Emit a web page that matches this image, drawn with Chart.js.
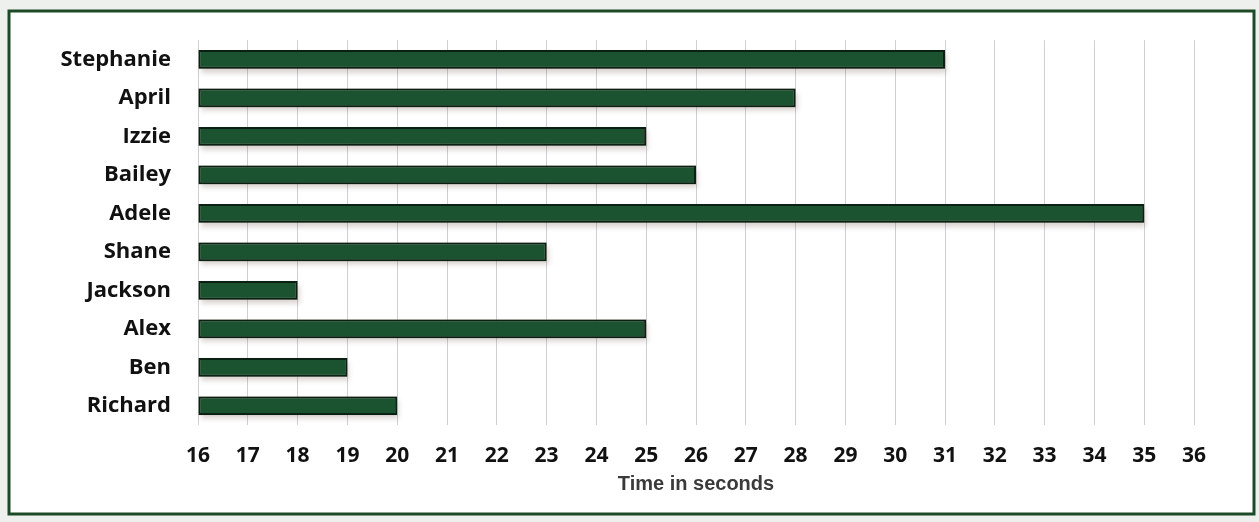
<!DOCTYPE html>
<html>
<head>
<meta charset="utf-8">
<script src="https://cdn.jsdelivr.net/npm/chart.js@4.4.1/dist/chart.umd.min.js"></script>
<style>
  html, body { margin: 0; padding: 0; background: #eef0ee; }
  #wrap { position: absolute; left: 0; top: 0; width: 1259px; height: 522px; }
</style>
</head>
<body>
<div id="wrap"><canvas id="c" width="1259" height="522"></canvas></div>
<script>
const names = ["Stephanie", "April", "Izzie", "Bailey", "Adele", "Shane", "Jackson", "Alex", "Ben", "Richard"];
const times = [31, 28, 25, 26, 35, 23, 18, 25, 19, 20];
const axisMin = 16;
const axisMax = 36;
const axisTitle = "Time in seconds";

const framePlugin = {
  id: 'frame',
  beforeDraw(chart) {
    const ctx = chart.ctx;
    ctx.save();
    ctx.fillStyle = '#eef0ee';
    ctx.fillRect(0, 0, chart.width, chart.height);
    ctx.fillStyle = '#ffffff';
    ctx.fillRect(9, 11, 1245, 503);
    ctx.strokeStyle = '#1d4a26';
    ctx.lineWidth = 3;
    ctx.strokeRect(9, 11, 1245, 503);
    ctx.restore();
  }
};

// soft drop shadow under each bar, taken from the library's bar elements
const shadowPlugin = {
  id: 'barShadow',
  beforeDatasetsDraw(chart) {
    const ctx = chart.ctx;
    ctx.save();
    ctx.shadowColor = 'rgba(70,45,30,0.6)';
    ctx.shadowBlur = 5;
    ctx.shadowOffsetX = 2;
    ctx.shadowOffsetY = 4;
    ctx.fillStyle = 'rgba(70,45,30,0.35)';
    chart.getDatasetMeta(0).data.forEach(bar => {
      const p = bar.getProps(['x', 'y', 'base', 'height'], true);
      const left = Math.min(p.x, p.base), right = Math.max(p.x, p.base);
      ctx.fillRect(left, p.y - p.height / 2, right - left, p.height);
    });
    ctx.restore();
  }
};

new Chart(document.getElementById('c'), {
  type: 'bar',
  data: {
    labels: names,
    datasets: [{
      data: times,
      base: axisMin,
      backgroundColor: '#1b5230',
      borderColor: '#0a2012',
      borderWidth: 2,
      borderSkipped: false,
      categoryPercentage: 0.9,
      barPercentage: 0.54
    }]
  },
  plugins: [framePlugin, shadowPlugin],
  options: {
    indexAxis: 'y',
    responsive: false,
    animation: false,
    devicePixelRatio: 1,
    layout: { padding: { left: 20, right: 65, top: 37, bottom: 22 } },
    plugins: { legend: { display: false }, tooltip: { enabled: false } },
    scales: {
      x: {
        min: axisMin,
        max: axisMax,
        ticks: {
          stepSize: 1,
          padding: 18,
          color: '#111111',
          font: { family: 'Open Sans', weight: 'bold', size: 21 }
        },
        grid: { color: '#cfcfd4', lineWidth: 1, drawTicks: false },
        border: { display: false },
        title: {
          display: true,
          text: axisTitle,
          color: '#3a3a3a',
          font: { family: 'Liberation Sans', weight: 'bold', size: 20 },
          padding: { top: 4, bottom: 4 }
        },
        afterFit(s) { s.height = 75; }
      },
      y: {
        ticks: {
          padding: 27,
          color: '#111111',
          font: { family: 'Open Sans', weight: 'bold', size: 22 }
        },
        grid: { display: false, drawTicks: false },
        border: { display: false },
        afterFit(s) { s.width = 178; }
      }
    }
  }
});
</script>
</body>
</html>
